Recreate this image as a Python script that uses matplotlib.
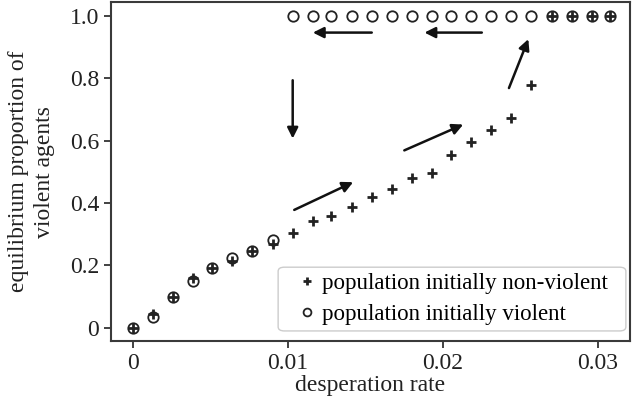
import matplotlib.pyplot as plt
from matplotlib.patches import FancyBboxPatch

plt.rcParams['font.family'] = ['Liberation Serif', 'DejaVu Serif']

# desperation rate values
rates = [0.0, 0.0013, 0.0026, 0.0039, 0.0051, 0.0064, 0.0077, 0.0090,
         0.0103, 0.0116, 0.0128, 0.0141, 0.0154, 0.0167, 0.0180, 0.0193,
         0.0205, 0.0218, 0.0231, 0.0244, 0.0257, 0.0270, 0.0283, 0.0296, 0.0308]

# equilibrium proportion, population initially non-violent
nonviolent = [0.0, 0.045, 0.10, 0.161, 0.192, 0.215, 0.247, 0.270,
              0.305, 0.343, 0.357, 0.388, 0.418, 0.445, 0.480, 0.496,
              0.555, 0.595, 0.635, 0.672, 0.778, 1.0, 1.0, 1.0, 1.0]

# equilibrium proportion, population initially violent
violent = [0.0, 0.035, 0.098, 0.150, 0.192, 0.223, 0.247, 0.281,
           1.0, 1.0, 1.0, 1.0, 1.0, 1.0, 1.0, 1.0,
           1.0, 1.0, 1.0, 1.0, 1.0, 1.0, 1.0, 1.0, 1.0]

# arrows: (x_from, y_from, x_to, y_to)
arrows = [
    (0.0154, 0.947, 0.0116, 0.947),
    (0.0225, 0.947, 0.0188, 0.947),
    (0.0103, 0.794, 0.0103, 0.607),
    (0.0104, 0.378, 0.0142, 0.467),
    (0.0175, 0.569, 0.0213, 0.652),
    (0.02425, 0.769, 0.0255, 0.926),
]

fig = plt.figure(figsize=(6.38, 4.09), dpi=100)
ax = fig.add_axes([0.174, 0.166, 0.8135, 0.829])

ax.plot(rates, nonviolent, linestyle='none', marker='+', markersize=7.5,
        markeredgewidth=2.0, color='#222222', label='population initially non-violent')
ax.plot(rates, violent, linestyle='none', marker='o', markersize=7.5,
        markeredgewidth=1.3, markerfacecolor='none', markeredgecolor='#222222',
        label='population initially violent')

for x0, y0, x1, y1 in arrows:
    ax.annotate('', xy=(x1, y1), xytext=(x0, y0),
                arrowprops=dict(arrowstyle='-|>', color='#111111', lw=1.8,
                                mutation_scale=16, shrinkA=0, shrinkB=0))

ax.set_xlim(-0.00142, 0.03206)
ax.set_ylim(-0.043, 1.045)
ax.set_xticks([0, 0.01, 0.02, 0.03])
ax.set_xticklabels(['0', '0.01', '0.02', '0.03'])
ax.set_yticks([0, 0.2, 0.4, 0.6, 0.8, 1.0])
ax.set_yticklabels(['0', '0.2', '0.4', '0.6', '0.8', '1.0'])
ax.tick_params(direction='out', length=5, width=1.3, color='#333333',
               labelsize=17, labelcolor='#222222')
for s in ax.spines.values():
    s.set_linewidth(1.5)
    s.set_color('#3a3a3a')

ax.set_xlabel('desperation rate', fontsize=17, color='#222222', labelpad=1)
ax.set_ylabel('equilibrium proportion of\nviolent agents', fontsize=17,
              color='#222222', labelpad=11, linespacing=1.3)

# legend without its own frame; frame drawn separately (wider side padding)
leg = ax.legend(loc='center left', fontsize=16.5, handlelength=0.8,
                handletextpad=0.25, markerscale=0.75, borderpad=0,
                labelspacing=0.42, borderaxespad=0, frameon=False,
                bbox_to_anchor=(0.36, 0.124))
frame = FancyBboxPatch((0.322, 0.03), 0.67, 0.188, transform=ax.transAxes,
                       boxstyle='round,pad=0,rounding_size=0.012',
                       facecolor='white', edgecolor='#cccccc', linewidth=1.0,
                       zorder=4)
ax.add_patch(frame)
leg.set_zorder(5)

fig.savefig('out.png', dpi=100)
